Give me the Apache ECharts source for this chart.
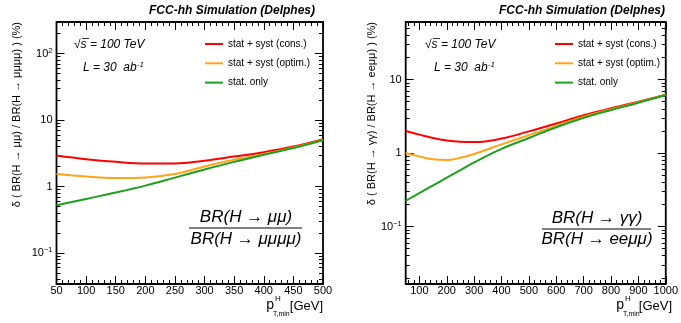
<!DOCTYPE html>
<html><head><meta charset="utf-8">
<script src="https://cdn.jsdelivr.net/npm/echarts@6/dist/echarts.min.js"></script>
<style>html,body{margin:0;padding:0;background:#fff}#c{width:681px;height:323px}</style>
</head><body><div id="c"></div>
<script>
// ---- data (left panel: H->mumu / H->4mu) ----
const ptLeft    = [50, 100, 150, 200, 250, 300, 350, 400, 450, 500];
const consLeft  = [2.93, 2.58, 2.35, 2.22, 2.22, 2.45, 2.83, 3.29, 3.99, 5.16];
const optimLeft = [1.54, 1.41, 1.34, 1.37, 1.54, 2.00, 2.52, 3.07, 3.86, 5.00];
const statLeft  = [0.52, 0.65, 0.81, 1.03, 1.36, 1.80, 2.35, 3.00, 3.80, 4.98];
// ---- data (right panel: H->gamgam / H->2e2mu) ----
const ptRight    = [50, 100, 150, 200, 250, 300, 400, 500, 600, 700, 800, 900, 1000];
const consRight  = [1.99, 1.78, 1.60, 1.48, 1.42, 1.41, 1.57, 1.97, 2.52, 3.27, 4.06, 5.00, 6.20];
const optimRight = [1.00, 0.90, 0.82, 0.80, 0.86, 0.97, 1.31, 1.75, 2.33, 3.12, 3.93, 4.90, 6.20];
const statRight  = [0.224, 0.285, 0.362, 0.461, 0.586, 0.746, 1.14, 1.60, 2.24, 3.02, 3.85, 4.83, 6.15];

const seriesNames = ['stat + syst (cons.)', 'stat + syst (optim.)', 'stat. only'];
const seriesColors = ['#ff0000', '#ffa31a', '#1f9f1f'];

const xTicksLeft = [50, 100, 150, 200, 250, 300, 350, 400, 450, 500];
const xTicksRight = [100, 200, 300, 400, 500, 600, 700, 800, 900, 1000];
const yTicksLeft = [0.1, 1, 10, 100];
const yTicksRight = [0.1, 1, 10];

const FONT = 'Liberation Sans, Arial, Helvetica, sans-serif';

function minorLinear(min, max, step, major) {
  const out = [];
  for (let v = Math.ceil(min / step) * step; v <= max + 1e-9; v += step) {
    if (Math.abs(v / major - Math.round(v / major)) > 1e-9) out.push(v);
  }
  return out;
}
function minorLog(min, max) {
  const out = [];
  for (let e = Math.floor(Math.log10(min)); e <= Math.ceil(Math.log10(max)); e++) {
    for (let k = 2; k <= 9; k++) {
      const v = k * Math.pow(10, e);
      if (v > min && v < max) out.push(+v.toPrecision(6));
    }
  }
  return out;
}
function logLabel(v) {
  const e = Math.round(Math.log10(v));
  if (e === 0) return '1';
  if (e === 1) return '10';
  return '{b|10}{s|' + (e < 0 ? '\u2212' + (-e) : e) + '}';
}

const grids = [
  {left: 56.5, top: 22, width: 266.5, height: 262, show: true, borderColor: '#000', borderWidth: 1.8, backgroundColor: 'transparent'},
  {left: 405.7, top: 22, width: 267, height: 262, show: true, borderColor: '#000', borderWidth: 1.8, backgroundColor: 'transparent'}
];

const panels = [
  {xmin: 50, xmax: 500, xMajor: xTicksLeft, xMinor: minorLinear(50, 500, 10, 50), ymin: 0.034, ymax: 300, yMajor: yTicksLeft},
  {xmin: 50, xmax: 1000, xMajor: xTicksRight, xMinor: minorLinear(50, 1000, 20, 100), ymin: 0.0165, ymax: 60.6, yMajor: yTicksRight}
];

const xAxes = [], yAxes = [];
panels.forEach((p, g) => {
  xAxes.push({type: 'value', gridIndex: g, position: 'bottom', min: p.xmin, max: p.xmax,
    axisLine: {show: false}, splitLine: {show: false},
    axisTick: {inside: true, length: 8, customValues: p.xMajor, lineStyle: {color: '#000', width: 1}},
    axisLabel: {customValues: p.xMajor, color: '#000', fontFamily: FONT, fontSize: 11, margin: 1,
      formatter: v => String(v)}});
  xAxes.push({type: 'value', gridIndex: g, position: 'bottom', min: p.xmin, max: p.xmax,
    axisLine: {show: false}, splitLine: {show: false}, axisLabel: {show: false},
    axisTick: {inside: true, length: 4, customValues: p.xMinor, lineStyle: {color: '#000', width: 1}}});
  xAxes.push({type: 'value', gridIndex: g, position: 'top', min: p.xmin, max: p.xmax,
    axisLine: {show: false}, splitLine: {show: false}, axisLabel: {show: false},
    axisTick: {inside: true, length: 8, customValues: p.xMajor, lineStyle: {color: '#000', width: 1}}});
  xAxes.push({type: 'value', gridIndex: g, position: 'top', min: p.xmin, max: p.xmax,
    axisLine: {show: false}, splitLine: {show: false}, axisLabel: {show: false},
    axisTick: {inside: true, length: 4, customValues: p.xMinor, lineStyle: {color: '#000', width: 1}}});

  const yMinor = minorLog(p.ymin, p.ymax);
  yAxes.push({type: 'log', logBase: 10, gridIndex: g, position: 'left', min: p.ymin, max: p.ymax,
    axisLine: {show: false}, splitLine: {show: false}, minorTick: {show: false},
    axisTick: {inside: true, length: 8, customValues: p.yMajor, lineStyle: {color: '#000', width: 1}},
    axisLabel: {customValues: p.yMajor, color: '#000', fontFamily: FONT, fontSize: 11, margin: 4,
      formatter: logLabel,
      rich: {b: {fontFamily: FONT, fontSize: 11, color: '#000'},
             s: {fontFamily: FONT, fontSize: 7.5, color: '#000', verticalAlign: 'top', padding: [0, 0, 6, 0]}}}});
  yAxes.push({type: 'log', logBase: 10, gridIndex: g, position: 'left', min: p.ymin, max: p.ymax,
    axisLine: {show: false}, splitLine: {show: false}, axisLabel: {show: false},
    axisTick: {inside: true, length: 4, customValues: yMinor, lineStyle: {color: '#000', width: 1}}});
  yAxes.push({type: 'log', logBase: 10, gridIndex: g, position: 'right', min: p.ymin, max: p.ymax,
    axisLine: {show: false}, splitLine: {show: false}, axisLabel: {show: false},
    axisTick: {inside: true, length: 8, customValues: p.yMajor, lineStyle: {color: '#000', width: 1}}});
  yAxes.push({type: 'log', logBase: 10, gridIndex: g, position: 'right', min: p.ymin, max: p.ymax,
    axisLine: {show: false}, splitLine: {show: false}, axisLabel: {show: false},
    axisTick: {inside: true, length: 4, customValues: yMinor, lineStyle: {color: '#000', width: 1}}});
});

function mkSeries(name, color, xs, ys, g) {
  return {name, type: 'line', xAxisIndex: 4 * g, yAxisIndex: 4 * g, smooth: 0.4,
    showSymbol: false, symbol: 'none', color: color,
    lineStyle: {color, width: 2}, data: xs.map((x, i) => [x, ys[i]]), z: 3, animation: false};
}
const series = [
  mkSeries(seriesNames[0], seriesColors[0], ptLeft, consLeft, 0),
  mkSeries(seriesNames[1], seriesColors[1], ptLeft, optimLeft, 0),
  mkSeries(seriesNames[2], seriesColors[2], ptLeft, statLeft, 0),
  mkSeries(seriesNames[0], seriesColors[0], ptRight, consRight, 1),
  mkSeries(seriesNames[1], seriesColors[1], ptRight, optimRight, 1),
  mkSeries(seriesNames[2], seriesColors[2], ptRight, statRight, 1)
];

function legend(left) {
  return {left, top: 32, orient: 'vertical', itemWidth: 18, itemHeight: 2, itemGap: 5.3, icon: 'rect',
    selectedMode: false, data: seriesNames.map((n, i) => ({name: n, itemStyle: {color: seriesColors[i]}})),
    textStyle: {fontFamily: FONT, fontSize: 10, color: '#000', lineHeight: 14}};
}

function txt(x, y, text, font, align, extra) {
  return Object.assign({type: 'text', x, y, silent: true,
    style: {text, font, fill: '#000', align: align || 'left', verticalAlign: 'middle'}}, extra || {});
}
function richTxt(x, y, text, rich, align) {
  return {type: 'text', x, y, silent: true,
    style: {text, rich, fill: '#000', align: align || 'left', verticalAlign: 'middle'}};
}
function hline(x1, x2, y, w) {
  return {type: 'line', silent: true, shape: {x1, y1: y, x2, y2: y}, style: {stroke: '#000', lineWidth: w || 1}};
}

const titleFont = 'italic bold 12px ' + FONT;
const annFont = 'italic 12px ' + FONT;
const fracFont = 'italic 17px ' + FONT;
const lumiRich = {a: {font: annFont, fill: '#000'}, s: {font: 'italic 8px ' + FONT, fill: '#000', verticalAlign: 'top', padding: [0, 0, 7, 0]}};

function panelGraphics(o) {
  return [
    txt(o.titleRight, 11, 'FCC-hh Simulation (Delphes)', titleFont, 'right'),
    txt(o.sqrtX, 45, '\u221As = 100 TeV', annFont, 'left'),
    hline(o.sqrtX + 8, o.sqrtX + 15, 38.5, 0.8),
    richTxt(o.lumiX, 68, '{a|L = 30  ab}{s|-1}', lumiRich, 'left'),
    txt(o.fracC, o.numY, o.num, fracFont, 'center'),
    hline(o.fracL, o.fracR, o.lineY, 1),
    txt(o.fracC, o.denY, o.den, fracFont, 'center'),
    txt(o.yTitleX, 22, o.yTitle, '11px ' + FONT, 'right', {rotation: Math.PI / 2}),
    txt(o.pX, 305, 'p', '14px ' + FONT, 'right'),
    txt(o.pX + 1, 299, 'H', '8px ' + FONT, 'left'),
    txt(o.pX - 1, 314, 'T,min', '7px ' + FONT, 'left'),
    txt(o.gevR, 306, '[GeV]', '13px ' + FONT, 'right')
  ];
}

const graphic = [].concat(
  panelGraphics({titleRight: 315, sqrtX: 74, lumiX: 83, fracC: 246, numY: 217, lineY: 228, denY: 239,
    fracL: 189, fracR: 302, num: 'BR(H \u2192 \u03BC\u03BC)', den: 'BR(H \u2192 \u03BC\u03BC\u03BC\u03BC)',
    yTitleX: 17, yTitle: '\u03B4 ( BR(H \u2192 \u03BC\u03BC) / BR(H \u2192 \u03BC\u03BC\u03BC\u03BC) ) (%)',
    pX: 274, gevR: 323}),
  panelGraphics({titleRight: 665, sqrtX: 425, lumiX: 434, fracC: 597, numY: 218, lineY: 229, denY: 239,
    fracL: 542, fracR: 651, num: 'BR(H \u2192 \u03B3\u03B3)', den: 'BR(H \u2192 ee\u03BC\u03BC)',
    yTitleX: 372, yTitle: '\u03B4 ( BR(H \u2192 \u03B3\u03B3) / BR(H \u2192 ee\u03BC\u03BC) ) (%)',
    pX: 624, gevR: 672})
);

const chart = echarts.init(document.getElementById('c'), null, {renderer: 'canvas'});
chart.setOption({
  animation: false,
  backgroundColor: '#fff',
  grid: grids,
  xAxis: xAxes,
  yAxis: yAxes,
  legend: [legend(200), legend(550)],
  series,
  graphic
});
</script>
</body></html>
